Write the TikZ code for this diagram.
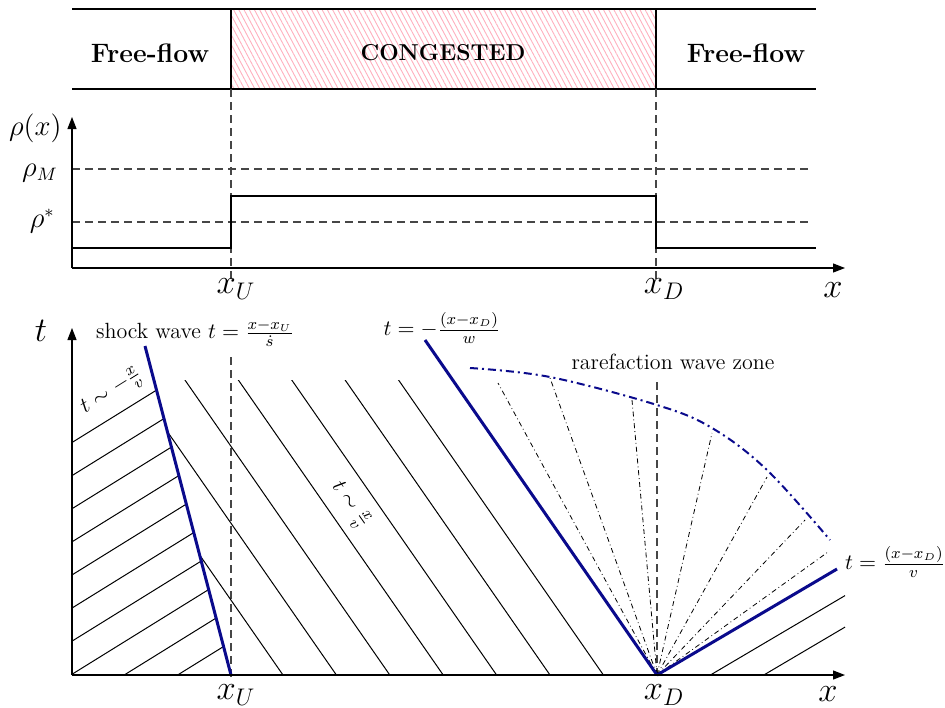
\documentclass[tikz,border=0pt]{standalone}
\usepackage{amsmath}
\usepackage{xcolor}
\definecolor{navy}{RGB}{10, 10, 140}
\definecolor{hatchpink}{RGB}{255, 175, 190}
\definecolor{dgray}{RGB}{70, 70, 70}
\usetikzlibrary{arrows.meta, patterns.meta, positioning, calc}
\tikzset{
  axisline/.style={line width=0.6pt, -{Triangle[length=6pt,width=4.5pt]}},
  barline/.style={line width=0.6pt},
  refdash/.style={dgray, line width=0.55pt, dash pattern=on 4pt off 2.5pt},
  profile/.style={line width=0.6pt},
  charline/.style={line width=0.5pt},
  shockline/.style={navy, line width=1.5pt},
  fanray/.style={line width=0.4pt, dash pattern=on 2.5pt off 1.5pt on 0.4pt off 1.5pt},
  fanedge/.style={navy, line width=1pt, dash pattern=on 4pt off 2pt on 1pt off 2pt},
  biglabel/.style={font=\fontsize{17.3}{20}\selectfont},
  rholabel/.style={font=\fontsize{13.5}{16}\selectfont, anchor=east, inner sep=0pt},
  zonelabel/.style={font=\fontsize{13.3}{16}\selectfont\bfseries},
  wavelabel/.style={font=\fontsize{11}{13}\selectfont}
}

\begin{document}
\begin{tikzpicture}[x=0.5pt, y=-0.5pt]
  \useasboundingbox (0,0) rectangle (945,707);

  % traffic state band
  \fill[pattern={Lines[angle=-62, distance=2.3pt, line width=0.45pt]}, pattern color=hatchpink] (231,9) rectangle (656,89);
  \draw[barline] (72,9) -- (816,9);
  \draw[barline] (72,89) -- (816,89);
  \draw[barline] (231,9) -- (231,89);
  \draw[barline] (656,9) -- (656,89);
  \node[zonelabel] (freeleft) at (150,53) {Free-flow};
  \node[zonelabel, font=\fontsize{11.5}{14}\selectfont\bfseries] (congested) at (443,53) {CONGESTED};
  \node[zonelabel] (freeright) at (746,53) {Free-flow};

  % density profile
  \coordinate (O1) at (72,268);
  \coordinate (xU1) at (231,268);
  \coordinate (xD1) at (656,268);
  \draw[refdash] (72,169) -- (810,169);
  \draw[refdash] (72,222) -- (810,222);
  \draw[refdash] (231,89) -- (231,280);
  \draw[refdash] (656,89) -- (656,280);
  \draw[profile] (72,248) -- (231,248) -- (231,196) -- (656,196) -- (656,248) -- (816,248);
  \draw[axisline] (O1) -- (845,268);
  \draw[axisline] (O1) -- (72,117);

  \node[rholabel] (rhox) at (62,128) {$\rho(x)$};
  \node[rholabel] (rhoM) at (58,173) {$\rho_M$};
  \node[rholabel] (rhostar) at (55,221) {$\rho^*$};
  \node[biglabel] (xUtop) at (236,289) {$x_U$};
  \node[biglabel] (xDtop) at (664,289) {$x_D$};
  \node[biglabel] (xtop) at (833,290) {$x$};

  % characteristics in the (x,t) plane
  \coordinate (O2) at (72,675);
  \coordinate (xU2) at (231,675);
  \coordinate (xD2) at (657,675);
  \coordinate (shocktop) at (145,346);
  \coordinate (backtop) at (425,340);
  \coordinate (fronttop) at (837,569);

  \draw[refdash] (231,357) -- (231,680);
  \draw[refdash] (657,382) -- (657,680);

  \begin{scope}
    \clip (72,675) -- (231,675) -- (145,346) -- (72,346) -- cycle;
    \foreach \k in {1,...,10}
      \draw[charline] ({231-53.4*\k},675) -- ++(700,-434);
  \end{scope}
  \begin{scope}
    \clip (231,675) -- (153.9,380) -- (845,380) -- (845,675) -- cycle;
    \foreach \k in {0,...,6}
      \draw[charline] ({283+53.4*\k},675) -- ++(-210,-302.4);
  \end{scope}
  \foreach \k in {1,2}
    \draw[charline] ({657+53.4*\k},675) -- (845,{675-0.59*(188-53.4*\k)});

  \foreach \a/\b in {498/383, 550/378, 632/400, 712/433, 767/477, 805/520, 828/552}
    \draw[fanray] (xD2) -- (\a,\b);
  \draw[fanedge] plot[smooth, tension=0.6] coordinates {(470,368) (550,377) (657,405) (712,428) (767,470) (830,540)};

  \draw[shockline] (xU2) -- (shocktop);
  \draw[shockline] (xD2) -- (backtop);
  \draw[shockline] (xD2) -- (fronttop);

  \draw[axisline] (O2) -- (845,675);
  \draw[axisline] (O2) -- (72,328);

  \node[biglabel] (tlab) at (41,331) {$t$};
  \node[biglabel] (xUbot) at (236,695) {$x_U$};
  \node[biglabel] (xDbot) at (664,695) {$x_D$};
  \node[biglabel] (xbot) at (828,694) {$x$};

  \node[wavelabel] (shocklab) at (195,333) {shock wave $t=\frac{x-x_U}{\dot{s}}$};
  \node[wavelabel] (backlab) at (442,328) {$t=-\frac{(x-x_D)}{w}$};
  \node[wavelabel] (fanlab) at (673,362) {rarefaction wave zone};
  \node[wavelabel, anchor=west] (frontlab) at (838,562) {$t=\frac{(x-x_D)}{v}$};
  \node[wavelabel, rotate=32] (freechar) at (112,392) {$t\sim-\frac{x}{v}$};
  \node[wavelabel, rotate=-55] (congchar) at (350,505) {$t\sim\frac{x}{v}$};
\end{tikzpicture}
\end{document}
